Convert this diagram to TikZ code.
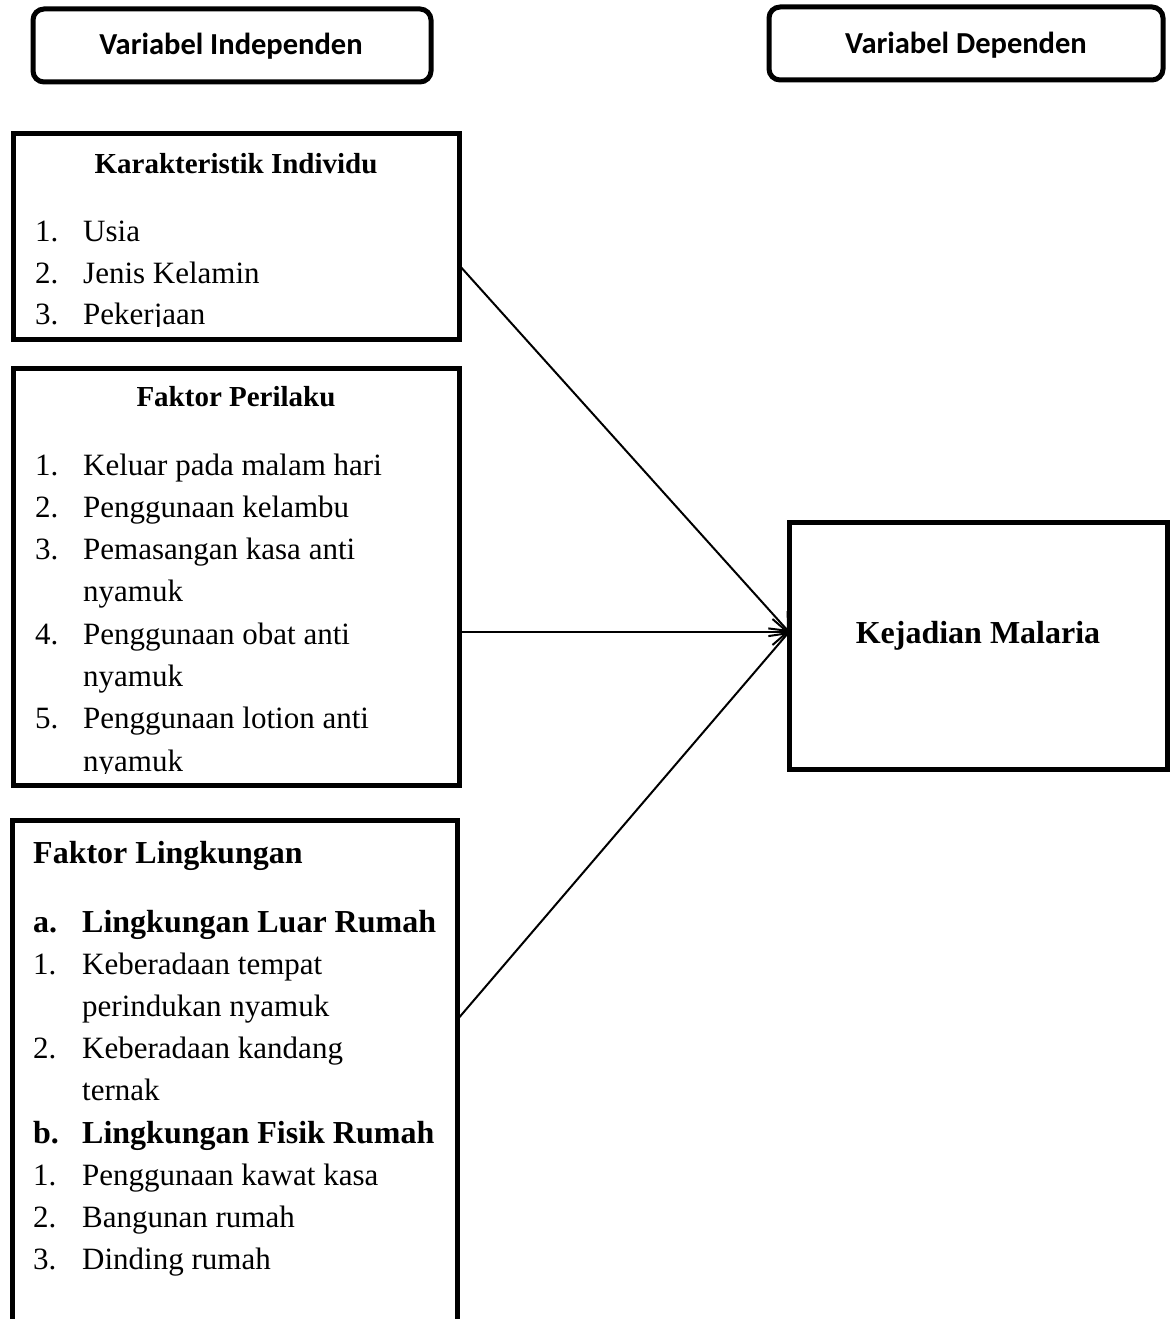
\documentclass[tikz,border=0pt]{standalone}
\usepackage{fontspec}
\setmainfont{Liberation Serif}
\newfontfamily\calibri{Carlito}
\usetikzlibrary{arrows.meta}
\begin{document}
\begin{tikzpicture}[x=1pt,y=-1pt,
  boxline/.style={draw=black,line width=5pt,inner sep=0pt,outer sep=0pt},
  headbox/.style={boxline,rounded corners=11pt},
  headtxt/.style={anchor=base,inner sep=0pt,font=\calibri\bfseries\fontsize{30.5}{34}\selectfont},
  itm/.style={anchor=base west,inner sep=0pt,font=\fontsize{31}{42}\selectfont},
  ttl/.style={anchor=base,inner sep=0pt,font=\bfseries\fontsize{29}{34}\selectfont},
  bitm/.style={anchor=base west,inner sep=0pt,font=\bfseries\fontsize{32}{42}\selectfont},
  arr/.style={line width=2pt,-{Straight Barb[length=15pt,width=26pt]}}]
\useasboundingbox (0,0) rectangle (1170,1319);
% header boxes
\node[headbox,minimum width=398pt,minimum height=73pt] (hi) at (232,45.5) {};
\node[headtxt] (hit) at (231,55) {Variabel Independen};
\node[headbox,minimum width=394pt,minimum height=73pt] (hd) at (966,43.5) {};
\node[headtxt] (hdt) at (966,54) {Variabel Dependen};
% box 1
\node[boxline,minimum width=446pt,minimum height=205pt] (b1) at (236,236.5) {};
\begin{scope}
\clip (15,136) rectangle (457,326);
\node[ttl] (b1t) at (236,173) {Karakteristik Individu};
\node[itm] (n11) at (35,241) {1.}; \node[itm] (t11) at (83,241) {Usia};
\node[itm] (n12) at (35,283) {2.}; \node[itm] (t12) at (83,283) {Jenis Kelamin};
\node[itm] (n13) at (35,324.5) {3.}; \node[itm] (t13) at (83,324.5) {Pekerjaan};
\end{scope}
% box 2
\node[boxline,minimum width=446pt,minimum height=417pt] (b2) at (236,576.5) {};
\begin{scope}
\clip (15,370) rectangle (457,773);
\node[ttl] (b2t) at (236,406) {Faktor Perilaku};
\node[itm] (n21) at (35,475) {1.}; \node[itm] (t21) at (83,475) {Keluar pada malam hari};
\node[itm] (n22) at (35,517.2) {2.}; \node[itm] (t22) at (83,517.2) {Penggunaan kelambu};
\node[itm] (n23) at (35,559.5) {3.}; \node[itm] (t23) at (83,559.5) {Pemasangan kasa anti};
\node[itm] (t23b) at (83,601.8) {nyamuk};
\node[itm] (n24) at (35,644.1) {4.}; \node[itm] (t24) at (83,644.1) {Penggunaan obat anti};
\node[itm] (t24b) at (83,686.4) {nyamuk};
\node[itm] (n25) at (35,728.7) {5.}; \node[itm] (t25) at (83,728.7) {Penggunaan lotion anti};
\node[itm] (t25b) at (83,771) {nyamuk};
\end{scope}
% box 3 (open at the bottom)
\node[boxline,minimum width=445pt,minimum height=540pt] (b3) at (234.5,1090) {};
\node[bitm] (b3t) at (33,863) {Faktor Lingkungan};
\node[bitm] (n3a) at (33,932) {a.}; \node[bitm] (t3a) at (82,932) {Lingkungan Luar Rumah};
\node[itm] (n31) at (33,974) {1.}; \node[itm] (t31) at (82,974) {Keberadaan tempat};
\node[itm] (t31b) at (82,1016) {perindukan nyamuk};
\node[itm] (n32) at (33,1058) {2.}; \node[itm] (t32) at (82,1058) {Keberadaan kandang};
\node[itm] (t32b) at (82,1100) {ternak};
\node[bitm] (n3b) at (33,1143) {b.}; \node[bitm] (t3b) at (82,1143) {Lingkungan Fisik Rumah};
\node[itm] (n33) at (33,1185) {1.}; \node[itm] (t33) at (82,1185) {Penggunaan kawat kasa};
\node[itm] (n34) at (33,1227) {2.}; \node[itm] (t34) at (82,1227) {Bangunan rumah};
\node[itm] (n35) at (33,1269) {3.}; \node[itm] (t35) at (82,1269) {Dinding rumah};
% dependent box
\node[boxline,minimum width=378pt,minimum height=247pt] (kj) at (978,646) {};
\node[anchor=base,inner sep=0pt,font=\bfseries\fontsize{32}{40}\selectfont] (kjt) at (978,643) {Kejadian Malaria};
% connectors
\coordinate (s1) at (b1.east |- 0,265);
\coordinate (s2) at (b2.east |- 0,632);
\coordinate (s3) at (b3.east |- 0,1020);
\coordinate (e) at (kj.west |- 0,632);
\draw[arr] (s1) -- (e);
\draw[arr] (s2) -- (e);
\draw[arr] (s3) -- (e);
\end{tikzpicture}
\end{document}
